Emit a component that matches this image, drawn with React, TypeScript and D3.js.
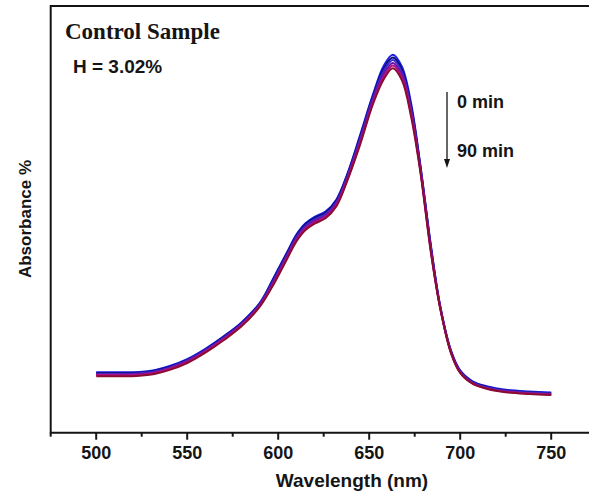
import React from "react";
import * as d3 from "d3";

const wavelengths = [500, 510, 520, 528, 532, 540, 550, 560, 570, 580, 590, 598, 605, 610, 615, 620, 626, 632, 638, 645, 652, 658, 663, 668, 673, 678, 684, 689, 695, 700, 707, 715, 725, 738, 750];

const abs0 = [0.170, 0.170, 0.170, 0.173, 0.176, 0.187, 0.207, 0.236, 0.271, 0.311, 0.366, 0.441, 0.509, 0.557, 0.589, 0.607, 0.622, 0.656, 0.728, 0.837, 0.950, 1.032, 1.063, 1.029, 0.927, 0.757, 0.523, 0.357, 0.230, 0.175, 0.144, 0.130, 0.121, 0.116, 0.113];
const abs15 = [0.168, 0.168, 0.168, 0.171, 0.174, 0.185, 0.205, 0.234, 0.269, 0.309, 0.364, 0.438, 0.506, 0.554, 0.586, 0.604, 0.619, 0.653, 0.725, 0.832, 0.945, 1.024, 1.055, 1.021, 0.919, 0.753, 0.519, 0.355, 0.228, 0.173, 0.142, 0.128, 0.119, 0.114, 0.111];
const abs30 = [0.166, 0.166, 0.166, 0.169, 0.172, 0.183, 0.203, 0.232, 0.267, 0.307, 0.362, 0.434, 0.502, 0.550, 0.582, 0.600, 0.615, 0.649, 0.721, 0.827, 0.940, 1.017, 1.048, 1.014, 0.912, 0.749, 0.515, 0.354, 0.227, 0.172, 0.141, 0.127, 0.118, 0.113, 0.110];
const abs45 = [0.164, 0.164, 0.164, 0.167, 0.170, 0.181, 0.201, 0.230, 0.265, 0.305, 0.360, 0.430, 0.498, 0.546, 0.578, 0.596, 0.611, 0.645, 0.717, 0.821, 0.934, 1.009, 1.040, 1.006, 0.904, 0.745, 0.511, 0.352, 0.225, 0.170, 0.139, 0.125, 0.116, 0.111, 0.108];
const abs60 = [0.162, 0.162, 0.162, 0.165, 0.168, 0.179, 0.199, 0.228, 0.263, 0.303, 0.358, 0.426, 0.494, 0.542, 0.574, 0.592, 0.607, 0.641, 0.713, 0.815, 0.928, 1.002, 1.033, 0.999, 0.897, 0.741, 0.507, 0.351, 0.224, 0.169, 0.138, 0.124, 0.115, 0.110, 0.107];
const abs90 = [0.159, 0.159, 0.159, 0.162, 0.165, 0.176, 0.196, 0.225, 0.260, 0.300, 0.355, 0.422, 0.490, 0.538, 0.570, 0.588, 0.603, 0.637, 0.709, 0.810, 0.923, 0.994, 1.025, 0.991, 0.889, 0.737, 0.503, 0.350, 0.223, 0.168, 0.137, 0.123, 0.114, 0.109, 0.106];

const seriesNames = ["0 min", "15 min", "30 min", "45 min", "60 min", "90 min"];
const seriesColors = ["#1f1fe8", "#0a0a80", "#3a2cc8", "#6a10a8", "#b0108a", "#8a0c30"];
const seriesValues = [abs0, abs15, abs30, abs45, abs60, abs90];

const majorTicks = [500, 550, 600, 650, 700, 750];
const minorTicks = [475, 525, 575, 625, 675, 725, 775];

const W = 589;
const H = 497;
const left = 50.7;
const top = 6;
const bottom = 432.7;

export default function App() {
  const x = d3.scaleLinear().domain([475, 775]).range([left, left + 300 * 1.82]);
  const y = d3.scaleLinear().domain([0, 1.2]).range([bottom, top]);
  const line = d3
    .line<number>()
    .x((_, i) => x(wavelengths[i]))
    .y((d) => y(d))
    .curve(d3.curveCatmullRom.alpha(0.5));
  const sans = "'Liberation Sans', Arial, sans-serif";
  const ink = "#151515";
  const xRight = x(775);
  return (
    <svg
      width={W}
      height={H}
      style={{ position: "absolute", left: 0, top: 0, background: "#fff" }}
    >
      <rect x={0} y={0} width={W} height={H} fill="#fff" />
      <path
        d={`M${xRight},${top} L${left},${top} L${left},${bottom} L${xRight},${bottom}`}
        fill="none"
        stroke={ink}
        strokeWidth={2}
      />
      {majorTicks.map((t) => (
        <line key={"M" + t} x1={x(t)} x2={x(t)} y1={bottom} y2={bottom + 7} stroke={ink} strokeWidth={2} />
      ))}
      {minorTicks.map((t) => (
        <line key={"m" + t} x1={x(t)} x2={x(t)} y1={bottom} y2={bottom + 4} stroke={ink} strokeWidth={2} />
      ))}
      {majorTicks.map((t) => (
        <text
          key={"l" + t}
          x={x(t)}
          y={459}
          textAnchor="middle"
          fontFamily={sans}
          fontWeight="bold"
          fontSize={18}
          fill={ink}
        >
          {t}
        </text>
      ))}
      <text x={352} y={487} textAnchor="middle" fontFamily={sans} fontWeight="bold" fontSize={19} fill={ink}>
        Wavelength (nm)
      </text>
      <text
        transform={`translate(31,219) rotate(-90)`}
        textAnchor="middle"
        fontFamily={sans}
        fontWeight="bold"
        fontSize={17}
        fill={ink}
      >
        Absorbance %
      </text>
      {seriesValues.map((vals, k) => (
        <path
          key={seriesNames[k]}
          d={line(vals) || ""}
          fill="none"
          stroke={seriesColors[k]}
          strokeWidth={2}
        />
      ))}
      <text x={65} y={39} fontFamily="'Liberation Serif', 'Times New Roman', serif" fontWeight="bold" fontSize={23} fill={ink}>
        Control Sample
      </text>
      <text x={73} y={73} fontFamily={sans} fontWeight="bold" fontSize={19} fill={ink}>
        H = 3.02%
      </text>
      <line x1={447} x2={447} y1={92} y2={161} stroke={ink} strokeWidth={1.3} />
      <path d="M444,159 L450,159 L447,168 Z" fill={ink} />
      <text x={457} y={108} fontFamily={sans} fontWeight="bold" fontSize={18} fill={ink}>
        {seriesNames[0]}
      </text>
      <text x={457} y={157} fontFamily={sans} fontWeight="bold" fontSize={18} fill={ink}>
        {seriesNames[5]}
      </text>
    </svg>
  );
}
